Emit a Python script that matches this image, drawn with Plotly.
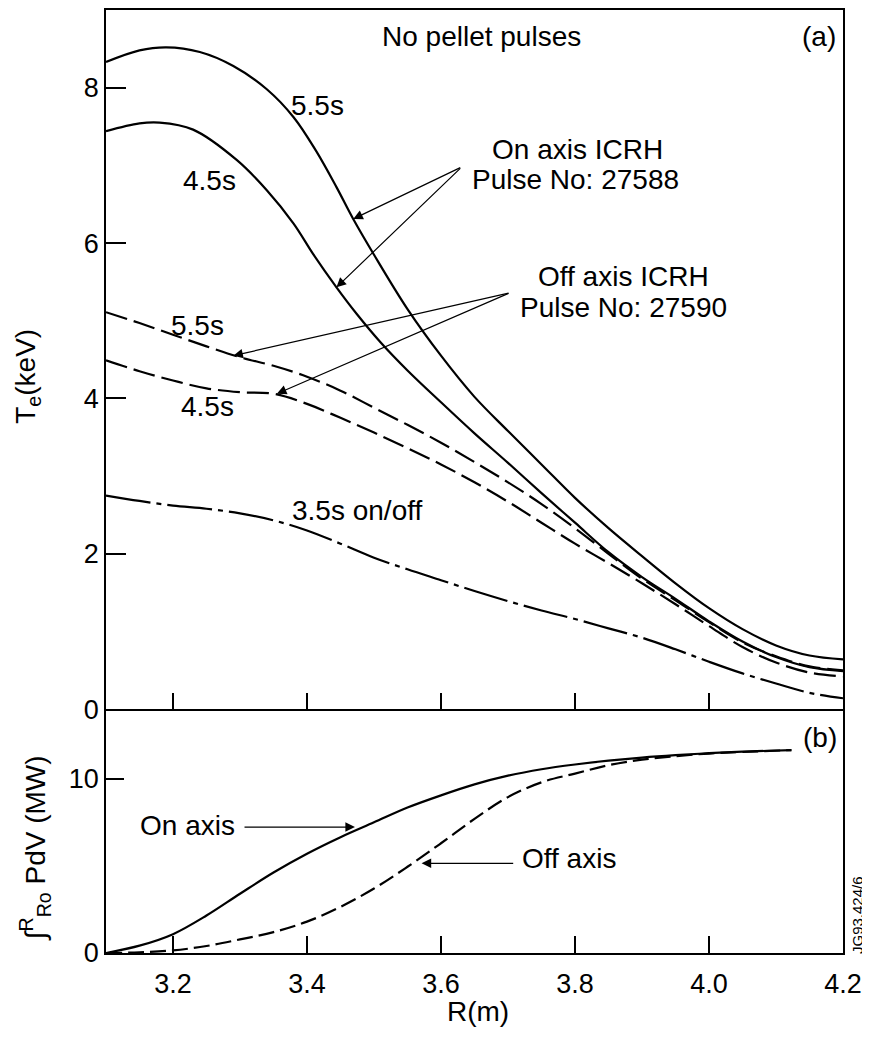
import plotly.graph_objects as go
from plotly.subplots import make_subplots

# ---------------- data ----------------
# (a) electron temperature profiles, Te (keV) vs R (m)
on55_R = [3.10, 3.15, 3.19, 3.24, 3.29, 3.34, 3.38, 3.414, 3.444, 3.469, 3.50, 3.55, 3.60,
          3.65, 3.70, 3.75, 3.80, 3.85, 3.90, 3.95, 4.00, 4.05, 4.10, 4.15, 4.20]
on55_T = [8.33, 8.48, 8.52, 8.46, 8.28, 7.98, 7.62, 7.18, 6.72, 6.31, 5.85, 5.15, 4.55,
          4.02, 3.58, 3.15, 2.72, 2.33, 1.97, 1.62, 1.30, 1.03, 0.82, 0.69, 0.64]

on45_R = [3.10, 3.15, 3.18, 3.23, 3.295, 3.34, 3.38, 3.409, 3.444, 3.474, 3.51, 3.55, 3.60,
          3.65, 3.70, 3.75, 3.80, 3.85, 3.90, 3.95, 4.00, 4.05, 4.10, 4.15, 4.20]
on45_T = [7.44, 7.54, 7.55, 7.46, 7.07, 6.68, 6.25, 5.86, 5.43, 5.09, 4.72, 4.36, 3.95,
          3.55, 3.17, 2.78, 2.40, 2.02, 1.70, 1.42, 1.13, 0.87, 0.67, 0.54, 0.49]

off55_R = [3.10, 3.15, 3.20, 3.25, 3.30, 3.35, 3.40, 3.45, 3.50, 3.55, 3.60, 3.65,
           3.70, 3.75, 3.80, 3.85, 3.90, 3.95, 4.00, 4.05, 4.10, 4.15, 4.20]
off55_T = [5.11, 4.97, 4.82, 4.67, 4.53, 4.42, 4.28, 4.10, 3.88, 3.66, 3.43, 3.18,
           2.92, 2.64, 2.33, 2.00, 1.68, 1.40, 1.12, 0.86, 0.68, 0.55, 0.50]

off45_R = [3.10, 3.15, 3.20, 3.25, 3.30, 3.35, 3.40, 3.45, 3.50, 3.55, 3.60, 3.65,
           3.70, 3.75, 3.80, 3.85, 3.90, 3.95, 4.00, 4.05, 4.10, 4.15, 4.20]
off45_T = [4.49, 4.35, 4.23, 4.13, 4.08, 4.06, 3.93, 3.75, 3.56, 3.36, 3.15, 2.92,
           2.67, 2.40, 2.13, 1.88, 1.62, 1.35, 1.07, 0.80, 0.60, 0.47, 0.42]

t35_R = [3.10, 3.15, 3.20, 3.25, 3.30, 3.35, 3.40, 3.45, 3.50, 3.55, 3.60, 3.65,
         3.70, 3.75, 3.80, 3.85, 3.90, 3.95, 4.00, 4.05, 4.10, 4.15, 4.20]
t35_T = [2.75, 2.68, 2.62, 2.58, 2.52, 2.43, 2.30, 2.13, 1.95, 1.80, 1.66, 1.52,
         1.39, 1.27, 1.16, 1.04, 0.92, 0.77, 0.61, 0.46, 0.33, 0.21, 0.14]

# (b) integrated deposited power (MW) vs R (m)
pon_R = [3.10, 3.15, 3.20, 3.25, 3.30, 3.35, 3.40, 3.45, 3.50, 3.55, 3.60, 3.65,
         3.70, 3.75, 3.80, 3.85, 3.90, 3.95, 4.00, 4.05, 4.123]
pon_P = [0.0, 0.42, 1.08, 2.15, 3.40, 4.62, 5.70, 6.65, 7.50, 8.35, 9.05, 9.68,
         10.18, 10.55, 10.82, 11.04, 11.22, 11.36, 11.47, 11.56, 11.65]

poff_R = [3.10, 3.15, 3.20, 3.25, 3.30, 3.35, 3.40, 3.45, 3.50, 3.55, 3.60, 3.65,
          3.70, 3.75, 3.80, 3.85, 3.90, 3.95, 4.00, 4.05, 4.123]
poff_P = [0.0, 0.04, 0.15, 0.40, 0.78, 1.20, 1.80, 2.65, 3.70, 4.95, 6.30, 7.70,
          8.95, 9.80, 10.30, 10.78, 11.10, 11.30, 11.45, 11.54, 11.65]

x_ticks = [3.2, 3.4, 3.6, 3.8, 4.0, 4.2]
x_ticklabels = ["3.2", "3.4", "3.6", "3.8", "4.0", "4.2"]
ya_ticks = [0, 2, 4, 6, 8]
yb_ticks = [0, 10]

# ---------------- figure ----------------
FONT = "Liberation Sans, Arial, Helvetica, sans-serif"
fig = make_subplots(rows=2, cols=1, shared_xaxes=True, vertical_spacing=0,
                    row_heights=[0.7414, 0.2586])

LW = 2.2
def add(x, y, dash, row):
    fig.add_trace(go.Scatter(x=x, y=y, mode="lines",
                             line=dict(color="black", width=LW, dash=dash,
                                       shape="spline", smoothing=1.0),
                             showlegend=False, hoverinfo="skip"), row=row, col=1)

add(on55_R, on55_T, "solid", 1)
add(on45_R, on45_T, "solid", 1)
add(off55_R, off55_T, "22px,7px", 1)
add(off45_R, off45_T, "22px,7px", 1)
add(t35_R, t35_T, "45px,6px,5px,6px", 1)
add(pon_R, pon_P, "solid", 2)
add(poff_R, poff_P, "16px,6px", 2)

axis_common = dict(showline=True, linecolor="black", linewidth=1.5,
                   ticks="inside", tickcolor="black", tickwidth=1.5,
                   showgrid=False, zeroline=False,
                   tickfont=dict(family=FONT, size=27, color="black"))

fig.update_xaxes(range=[3.1, 4.2], tickvals=x_ticks[:-1], ticklen=16, mirror=True,
                 showticklabels=False, row=1, col=1, **axis_common)
fig.update_xaxes(range=[3.1, 4.2], tickvals=x_ticks, ticktext=x_ticklabels, mirror=False,
                 ticklen=17, ticklabelstandoff=6, row=2, col=1, **axis_common)
fig.update_yaxes(range=[0, 9], tickvals=ya_ticks, ticklen=20, mirror=True,
                 row=1, col=1, **axis_common)
fig.update_yaxes(range=[0, 14], tickvals=yb_ticks, ticklen=18, mirror=True,
                 row=2, col=1, **axis_common)

def txt(x, y, s, yref="y", xref="x", size=28, xanchor="center", **kw):
    fig.add_annotation(x=x, y=y, xref=xref, yref=yref, text=s, showarrow=False,
                       xanchor=xanchor, yanchor="middle",
                       font=dict(family=FONT, size=size, color="black"), **kw)

def arrow(x, y, ax, ay, yref="y"):
    fig.add_annotation(x=x, y=y, ax=ax, ay=ay, xref="x", yref=yref,
                       axref="x", ayref=yref, text="", showarrow=True,
                       arrowhead=2, arrowsize=1.6, arrowwidth=1.2, arrowcolor="black")

# panel (a) texts
txt(3.661, 8.66, "No pellet pulses")
txt(4.164, 8.66, "(a)")
txt(3.804, 7.21, "On axis ICRH")
txt(3.801, 6.82, "Pulse No: 27588")
txt(3.872, 5.57, "Off axis ICRH")
txt(3.873, 5.17, "Pulse No: 27590")
txt(3.415, 7.77, "5.5s")
txt(3.254, 6.80, "4.5s")
txt(3.236, 4.94, "5.5s")
txt(3.251, 3.90, "4.5s")
txt(3.475, 2.56, "3.5s on/off")

# panel (a) arrows
arrow(3.469, 6.31, 3.631, 6.98)
arrow(3.444, 5.43, 3.631, 6.98)
arrow(3.290, 4.55, 3.703, 5.36)
arrow(3.355, 4.06, 3.703, 5.36)

# panel (b) texts and arrows
txt(4.166, 12.39, "(b)", yref="y2")
txt(3.2955, 7.30, "On axis", yref="y2", xanchor="right")
arrow(3.4716, 7.23, 3.3045, 7.23, yref="y2")
txt(3.718, 5.40, "Off axis", yref="y2", xanchor="left")
arrow(3.571, 5.15, 3.710, 5.15, yref="y2")

# vertical figure id (just outside the right frame)
txt(1.019, 2.18, "JG93.424/6", xref="paper", yref="y2", size=15, textangle=-90)

# axis titles
txt(-0.106, 4.29, "T<sub>e</sub>(keV)", xref="paper", yref="y", textangle=-90)
txt(-0.0963, 6.02, "∫<sup>R</sup><sub>Ro</sub> PdV (MW)", xref="paper", yref="y2",
    textangle=-90)
txt(3.655, -0.0625, "R(m)", yref="paper")

# the page body adds an 8px margin, so the figure is 8px smaller and the
# left/top margins 8px smaller to keep the plot area where it is in the reference
fig.update_layout(width=862, height=1031,
                  margin=dict(l=98, r=27, t=1.5, b=86),
                  paper_bgcolor="white", plot_bgcolor="white",
                  font=dict(family=FONT, color="black"))

fig.write_html("out.html")
